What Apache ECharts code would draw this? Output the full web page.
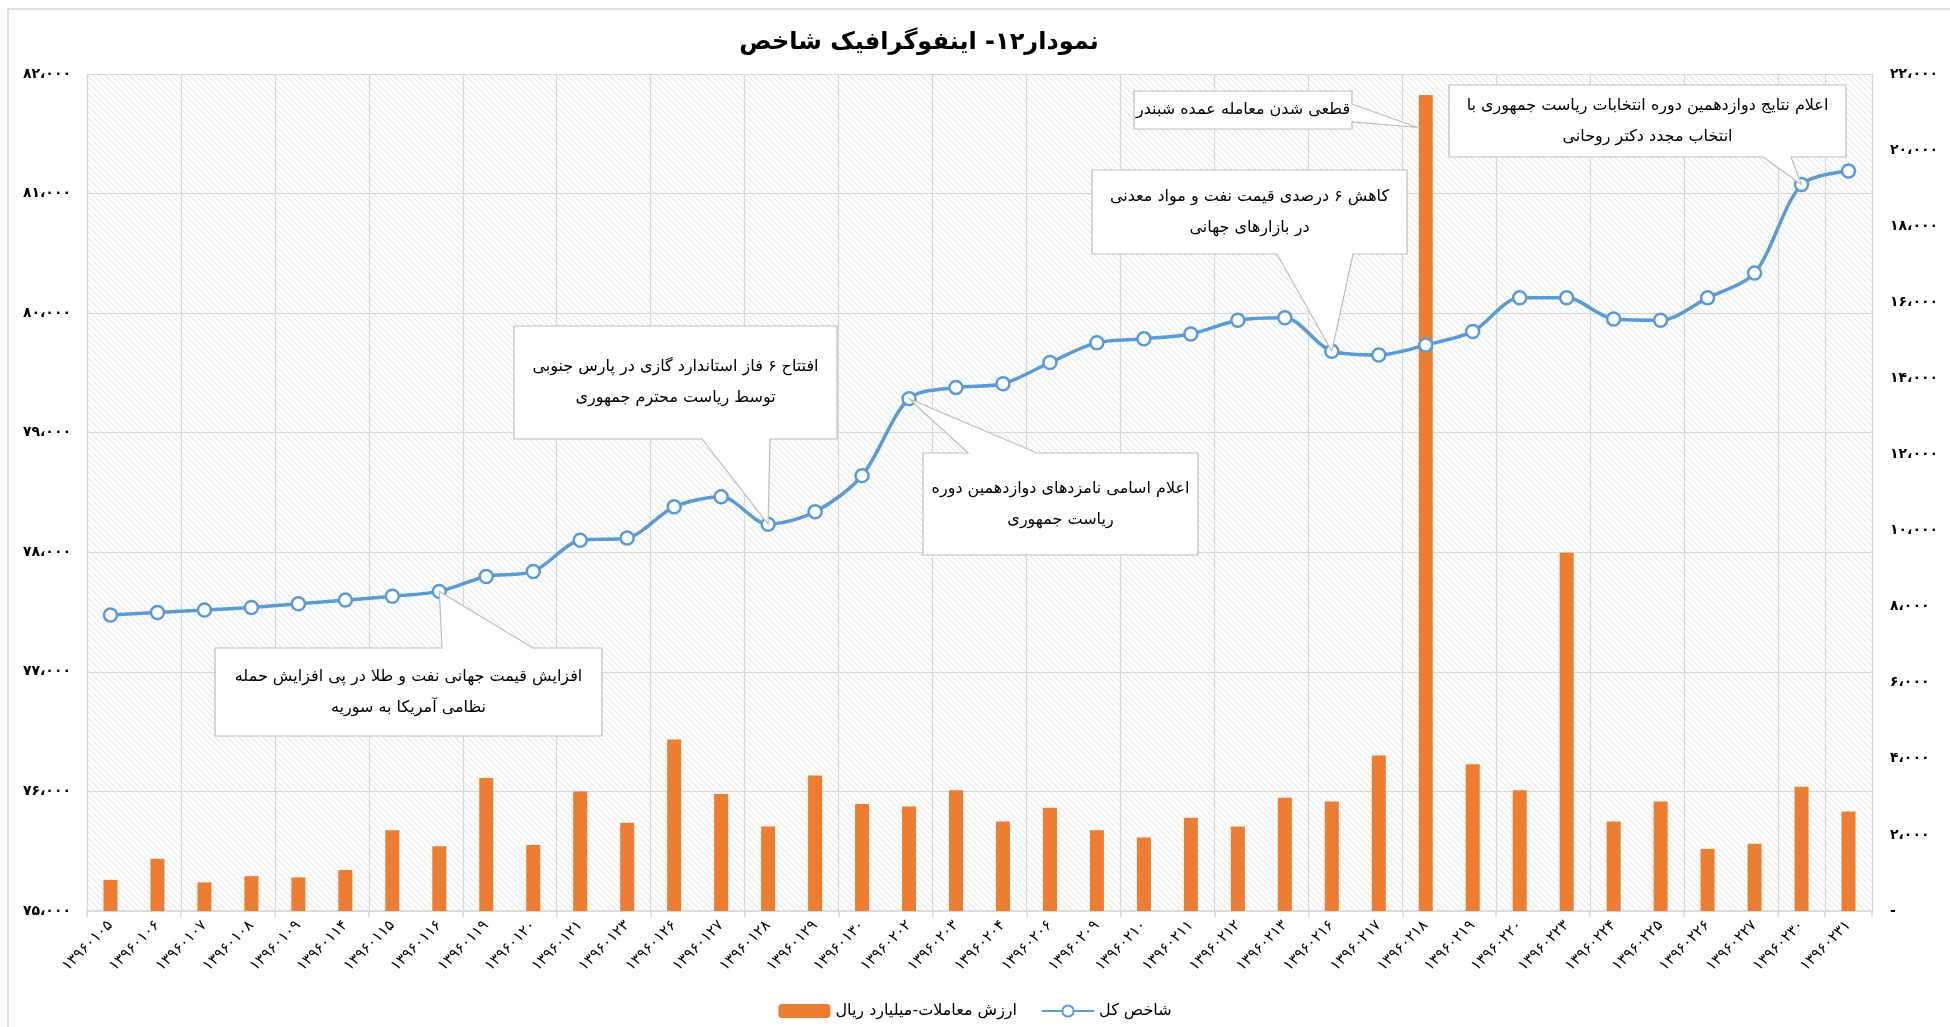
<!DOCTYPE html>
<html>
<head>
<meta charset="utf-8">
<script src="https://cdn.jsdelivr.net/npm/echarts@6/dist/echarts.min.js"></script>
<style>
  html, body { margin: 0; padding: 0; background: #fff; }
  #chart { width: 1950px; height: 1027px; }
</style>
</head>
<body>
<div id="chart"></div>
<script>
const categories = [
  "۱۳۹۶۰۱۰۵", "۱۳۹۶۰۱۰۶", "۱۳۹۶۰۱۰۷", "۱۳۹۶۰۱۰۸", "۱۳۹۶۰۱۰۹", "۱۳۹۶۰۱۱۴",
  "۱۳۹۶۰۱۱۵", "۱۳۹۶۰۱۱۶", "۱۳۹۶۰۱۱۹", "۱۳۹۶۰۱۲۰", "۱۳۹۶۰۱۲۱", "۱۳۹۶۰۱۲۳",
  "۱۳۹۶۰۱۲۶", "۱۳۹۶۰۱۲۷", "۱۳۹۶۰۱۲۸", "۱۳۹۶۰۱۲۹", "۱۳۹۶۰۱۳۰", "۱۳۹۶۰۲۰۲",
  "۱۳۹۶۰۲۰۳", "۱۳۹۶۰۲۰۴", "۱۳۹۶۰۲۰۶", "۱۳۹۶۰۲۰۹", "۱۳۹۶۰۲۱۰", "۱۳۹۶۰۲۱۱",
  "۱۳۹۶۰۲۱۲", "۱۳۹۶۰۲۱۳", "۱۳۹۶۰۲۱۶", "۱۳۹۶۰۲۱۷", "۱۳۹۶۰۲۱۸", "۱۳۹۶۰۲۱۹",
  "۱۳۹۶۰۲۲۰", "۱۳۹۶۰۲۲۳", "۱۳۹۶۰۲۲۴", "۱۳۹۶۰۲۲۵", "۱۳۹۶۰۲۲۶", "۱۳۹۶۰۲۲۷",
  "۱۳۹۶۰۲۳۰", "۱۳۹۶۰۲۳۱"
];

// شاخص کل
const indexValues = [
  77476, 77496, 77517, 77538, 77569, 77600, 77632, 77673, 77798, 77840,
  78100, 78120, 78380, 78464, 78235, 78339, 78641, 79285, 79379, 79410,
  79587, 79753, 79785, 79826, 79941, 79962, 79681, 79650, 79733, 79847,
  80128, 80128, 79951, 79941, 80128, 80336, 81075, 81189
];

// ارزش معاملات - میلیارد ریال
const tradeValues = [
  817, 1373, 752, 915, 883, 1079, 2125, 1700, 3498, 1733,
  3138, 2321, 4511, 3073, 2223, 3563, 2811, 2746, 3171, 2354,
  2713, 2125, 1929, 2452, 2223, 2975, 2877, 4086, 21445, 3857,
  3171, 9415, 2354, 2877, 1634, 1765, 3269, 2615
];

const seriesNames = ["ارزش معاملات-میلیارد ریال", "شاخص کل"];
const titleText = "نمودار۱۲- اینفوگرافیک شاخص";

// callouts: text and the category they point at
const calloutTexts = [
  "افزایش قیمت جهانی نفت و طلا در پی افزایش حمله\nنظامی آمریکا به سوریه",
  "افتتاح ۶ فاز استاندارد گازی در پارس جنوبی\nتوسط ریاست محترم جمهوری",
  "اعلام اسامی نامزدهای دوازدهمین دوره\nریاست جمهوری",
  "کاهش ۶ درصدی قیمت نفت و مواد معدنی\nدر بازارهای جهانی",
  "قطعی شدن معامله عمده شبندر",
  "اعلام نتایج دوازدهمین دوره انتخابات ریاست جمهوری با\nانتخاب مجدد دکتر روحانی"
];
const calloutIndex = [7, 14, 17, 26, 28, 36];

function toFa(str) {
  return String(str).replace(/\d/g, (d) => "۰۱۲۳۴۵۶۷۸۹"[d]);
}
function faNumber(v) {
  if (v === 0) return "-";
  const s = Math.round(v).toString().replace(/\B(?=(\d{3})+(?!\d))/g, "،");
  return toFa(s);
}

function hatchPattern() {
  const c = document.createElement("canvas");
  c.width = 6;
  c.height = 6;
  const ctx = c.getContext("2d");
  ctx.fillStyle = "#ffffff";
  ctx.fillRect(0, 0, 6, 6);
  ctx.strokeStyle = "#e2e2e2";
  ctx.lineWidth = 1;
  ctx.beginPath();
  ctx.moveTo(-1, -1);
  ctx.lineTo(7, 7);
  ctx.moveTo(-4, 2);
  ctx.lineTo(4, 10);
  ctx.moveTo(2, -4);
  ctx.lineTo(10, 4);
  ctx.stroke();
  return c;
}

const fontFamily = "'DejaVu Sans', 'Noto Sans', sans-serif";
const chart = echarts.init(document.getElementById("chart"));

chart.setOption({
  backgroundColor: "#ffffff",
  animation: false,
  title: {
    text: titleText,
    left: 914,
    top: 26,
    textAlign: "center",
    textStyle: { fontSize: 24, fontWeight: "bold", color: "#000", fontFamily }
  },
  legend: {
    data: seriesNames,
    bottom: 3,
    left: "center",
    itemGap: 24,
    itemWidth: 52,
    itemHeight: 14,
    textStyle: { fontSize: 16, color: "#000", fontFamily }
  },
  grid: {
    left: 87,
    right: 78,
    top: 74,
    bottom: 116,
    show: true,
    borderWidth: 0,
    backgroundColor: { image: hatchPattern(), repeat: "repeat" }
  },
  xAxis: {
    type: "category",
    data: categories,
    boundaryGap: true,
    axisLine: { lineStyle: { color: "#d9d9d9", width: 1.5 } },
    axisTick: { show: true, interval: 1, length: 6, lineStyle: { color: "#d9d9d9", width: 1.5 } },
    splitLine: { show: true, interval: 1, lineStyle: { color: "#d9d9d9", width: 1.2 } },
    axisLabel: {
      interval: 0,
      rotate: 45,
      color: "#000",
      fontSize: 15,
      fontFamily,
      margin: 12
    }
  },
  yAxis: [
    {
      type: "value",
      min: 75000,
      max: 82000,
      interval: 1000,
      axisLine: { show: false },
      axisTick: { show: false },
      splitLine: { lineStyle: { color: "#d9d9d9", width: 1.2 } },
      axisLabel: {
        formatter: faNumber,
        color: "#000",
        fontSize: 14,
        fontWeight: "bold",
        fontFamily,
        margin: 16
      }
    },
    {
      type: "value",
      min: 0,
      max: 22000,
      interval: 2000,
      axisLine: { show: false },
      axisTick: { show: false },
      splitLine: { show: false },
      axisLabel: {
        formatter: faNumber,
        color: "#000",
        fontSize: 14,
        fontWeight: "bold",
        fontFamily,
        margin: 18
      }
    }
  ],
  series: [
    {
      name: seriesNames[0],
      type: "bar",
      yAxisIndex: 1,
      barWidth: 14,
      data: tradeValues,
      itemStyle: { color: "#ED7D31" },
      z: 2
    },
    {
      name: seriesNames[1],
      type: "line",
      yAxisIndex: 0,
      data: indexValues,
      smooth: 0.3,
      symbol: "circle",
      symbolSize: 13,
      lineStyle: { color: "#5B9BD5", width: 3.5 },
      itemStyle: { color: "#ffffff", borderColor: "#5B9BD5", borderWidth: 2.5 },
      z: 3
    }
  ]
});

// callout boxes [x1, y1, x2, y2], wedge side and wedge base
const calloutBoxes = [
  [215, 648, 602, 736],
  [514, 326, 837, 439],
  [923, 453, 1198, 555],
  [1092, 170, 1407, 254],
  [1134, 91, 1352, 129],
  [1449, 85, 1846, 157]
];
const calloutSides = ["top", "bottom", "top", "bottom", "right", "bottom"];
const calloutBases = [[442, 533], [702, 770], [968, 1037], [1277, 1353], [104, 122], [1763, 1791]];

function calloutTip(i) {
  const idx = calloutIndex[i];
  if (i === 4) {
    const p = chart.convertToPixel({ xAxisIndex: 0, yAxisIndex: 1 }, [idx, 20600]);
    return [p[0] - 9, p[1]];
  }
  return chart.convertToPixel({ xAxisIndex: 0, yAxisIndex: 0 }, [idx, indexValues[idx]]);
}

function calloutShape(box, side, base, tip) {
  const [x1, y1, x2, y2] = box;
  const [a, b] = base;
  if (side === "top") {
    return [[x1, y1], [a, y1], tip, [b, y1], [x2, y1], [x2, y2], [x1, y2]];
  }
  if (side === "bottom") {
    return [[x1, y1], [x2, y1], [x2, y2], [b, y2], tip, [a, y2], [x1, y2]];
  }
  return [[x1, y1], [x2, y1], [x2, a], tip, [x2, b], [x2, y2], [x1, y2]];
}

const graphics = [
  {
    type: "rect",
    shape: { x: 8, y: 9, width: 2000, height: 2000 },
    style: { fill: null, stroke: "#d9d9d9", lineWidth: 1.5 },
    silent: true,
    z: 0
  }
];

calloutTexts.forEach((text, i) => {
  const box = calloutBoxes[i];
  graphics.push({
    type: "polygon",
    shape: { points: calloutShape(box, calloutSides[i], calloutBases[i], calloutTip(i)) },
    style: { fill: "#ffffff", stroke: "#bfbfbf", lineWidth: 1.2 },
    z: 100
  });
  graphics.push({
    type: "text",
    x: (box[0] + box[2]) / 2,
    y: (box[1] + box[3]) / 2,
    style: {
      text,
      align: "center",
      verticalAlign: "middle",
      font: "16px " + fontFamily,
      lineHeight: 31,
      fill: "#000"
    },
    z: 101
  });
});

chart.setOption({ graphic: graphics });
</script>
</body>
</html>
